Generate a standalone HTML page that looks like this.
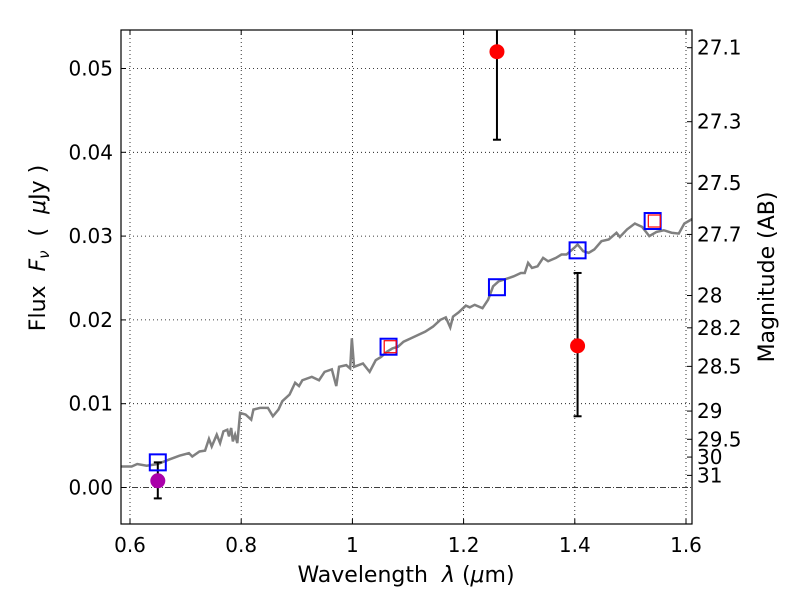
<!DOCTYPE html>
<html><head><meta charset="utf-8"><style>
body{margin:0;background:#fff;}
svg text{font-family:"DejaVu Sans","Liberation Sans",sans-serif;}
</style></head><body>
<svg id="chart" width="800" height="600" xmlns="http://www.w3.org/2000/svg"></svg>
<script>
const specW=[0.583,0.603,0.613,0.630,0.650,0.669,0.689,0.706,0.712,0.725,0.735,0.742,0.747,0.756,0.762,0.768,0.775,0.778,0.782,0.785,0.789,0.793,0.798,0.808,0.818,0.822,0.834,0.848,0.857,0.867,0.874,0.887,0.897,0.904,0.910,0.927,0.940,0.950,0.963,0.971,0.976,0.989,0.996,0.999,1.003,1.019,1.031,1.042,1.052,1.062,1.072,1.082,1.092,1.105,1.118,1.131,1.145,1.158,1.168,1.176,1.181,1.191,1.204,1.211,1.220,1.234,1.244,1.253,1.263,1.277,1.290,1.303,1.310,1.316,1.323,1.333,1.343,1.352,1.366,1.376,1.385,1.399,1.405,1.415,1.425,1.435,1.448,1.461,1.475,1.481,1.494,1.508,1.521,1.534,1.547,1.560,1.574,1.587,1.597,1.618];
const specF=[0.0025,0.0025,0.0028,0.0026,0.0028,0.0033,0.0038,0.0041,0.0037,0.0043,0.0044,0.0058,0.0049,0.0063,0.0053,0.0067,0.0069,0.0061,0.0071,0.0055,0.0063,0.0053,0.0089,0.0087,0.0081,0.0093,0.0095,0.0095,0.0085,0.0093,0.0103,0.0111,0.0125,0.0121,0.0128,0.0132,0.0128,0.0138,0.0141,0.0121,0.0144,0.0146,0.0142,0.0178,0.0144,0.0148,0.0138,0.0152,0.0156,0.0162,0.0166,0.0168,0.0174,0.0178,0.0182,0.0186,0.0192,0.0200,0.0203,0.0191,0.0204,0.0209,0.0217,0.0215,0.0218,0.0214,0.0224,0.0240,0.0246,0.0249,0.0252,0.0256,0.0256,0.0268,0.0262,0.0264,0.0274,0.0270,0.0274,0.0278,0.0278,0.0286,0.0290,0.0282,0.0280,0.0284,0.0294,0.0296,0.0304,0.0299,0.0308,0.0315,0.0311,0.0300,0.0305,0.0307,0.0304,0.0303,0.0315,0.0323];
const bandW=[0.650,1.065,1.260,1.405,1.540];
const bandF=[0.0030,0.0168,0.0239,0.0283,0.0318];
const redSqW=[1.068,1.543];
const redSqF=[0.0168,0.0318];
const obsW=[1.260,1.405];
const obsF=[0.0520,0.0169];
const obsLo=[0.0415,0.0085];
const obsHi=[0.0600,0.0256];
const purW=[0.650];
const purF=[0.0008];
const purLo=[-0.0013];
const purHi=[0.0030];
const xTicks=[0.6,0.8,1.0,1.2,1.4,1.6];
const xTickLabels=["0.6","0.8","1","1.2","1.4","1.6"];
const yTicks=[0,0.01,0.02,0.03,0.04,0.05];
const yTickLabels=["0.00","0.01","0.02","0.03","0.04","0.05"];
const magTicks=[27.1,27.3,27.5,27.7,28,28.2,28.5,29,29.5,30,31];
const magLabels=["27.1","27.3","27.5","27.7","28","28.2","28.5","29","29.5","30","31"];

const L=121,R=692,T=30,B=524;
const X=w=>130+(w-0.6)*556;
const Y=f=>487.5-f*8380;
const NS="http://www.w3.org/2000/svg";
const svg=document.getElementById('chart');
function mk(tag,a,parent){const e=document.createElementNS(NS,tag);for(const k in a)e.setAttribute(k,a[k]);(parent||svg).appendChild(e);return e;}
const clip=mk('clipPath',{id:'pc'});mk('rect',{x:L,y:T,width:R-L,height:B-T},clip);
const plot=mk('g',{'clip-path':'url(#pc)'});

xTicks.forEach(v=>{const l=mk('line',{x1:X(v),x2:X(v),y1:T,y2:B,stroke:'#000','stroke-width':0.8,'stroke-dasharray':'1,3'},plot);
});
yTicks.forEach(v=>{const l=mk('line',{x1:L,x2:R,y1:Y(v),y2:Y(v),stroke:'#000','stroke-width':0.8,'stroke-dasharray':v===0?'6,2,1,2':'1,3'},plot);
});
const sp=mk('polyline',{points:specW.map((w,i)=>X(w)+','+Y(specF[i])).join(' '),fill:'none',stroke:'#808080','stroke-width':2.5},plot);

function err(w,lo,hi){const x=X(w);
 const g=mk('g',{},plot);
 mk('line',{x1:x,x2:x,y1:Y(lo),y2:Y(hi),stroke:'#000','stroke-width':2},g);
 mk('line',{x1:x-4,x2:x+4,y1:Y(lo),y2:Y(lo),stroke:'#000','stroke-width':2},g);
 if(hi<0.0548)mk('line',{x1:x-4,x2:x+4,y1:Y(hi),y2:Y(hi),stroke:'#000','stroke-width':2},g);}
obsW.forEach((w,i)=>err(w,obsLo[i],obsHi[i]));
purW.forEach((w,i)=>err(w,purLo[i],purHi[i]));
bandW.forEach((w,i)=>{const r=mk('rect',{x:X(w)-8,y:Y(bandF[i])-8,width:16,height:16,fill:'none',stroke:'#0000ff','stroke-width':2},plot);
});
redSqW.forEach((w,i)=>{const r=mk('rect',{x:X(w)-6,y:Y(redSqF[i])-6,width:12,height:12,fill:'none',stroke:'#ff0000','stroke-width':1.2},plot);
});
obsW.forEach((w,i)=>{const c=mk('circle',{cx:X(w),cy:Y(obsF[i]),r:7.5,fill:'#ff0000'},plot);
});
purW.forEach((w,i)=>{const c=mk('circle',{cx:X(w),cy:Y(purF[i]),r:7.5,fill:'#aa00aa'},plot);
});
const fr=mk('rect',{x:L,y:T,width:R-L,height:B-T,fill:'none',stroke:'#000','stroke-width':1.2});

xTicks.forEach((v,i)=>{const x=X(v);
 mk('line',{x1:x,x2:x,y1:B,y2:B-5,stroke:'#000'});mk('line',{x1:x,x2:x,y1:T,y2:T+5,stroke:'#000'});
 const t=mk('text',{x:x,y:B+28,'font-size':20,'text-anchor':'middle'});t.textContent=xTickLabels[i];
 });
yTicks.forEach((v,i)=>{const y=Y(v);
 mk('line',{x1:L,x2:L+5,y1:y,y2:y,stroke:'#000'});
 const t=mk('text',{x:L-8,y:y+7,'font-size':20,'text-anchor':'end'});t.textContent=yTickLabels[i];
 });
magTicks.forEach((m,i)=>{const y=Y(Math.pow(10,(23.9-m)/2.5));
 mk('line',{x1:R,x2:R-5,y1:y,y2:y,stroke:'#000'});
 const t=mk('text',{x:R+5,y:y+7,'font-size':20});t.textContent=magLabels[i];
 });
</script>
<svg style="position:absolute;left:0;top:0" width="800" height="600">
<text x="406" y="582" font-size="22" text-anchor="middle" xml:space="preserve" font-family="DejaVu Sans, Liberation Sans, sans-serif">Wavelength  <tspan font-style="italic">λ</tspan> (<tspan font-style="italic">μ</tspan>m)</text>
<text transform="translate(45,248) rotate(-90)" font-size="22" text-anchor="middle" xml:space="preserve" font-family="DejaVu Sans, Liberation Sans, sans-serif">Flux  <tspan font-style="italic">F</tspan><tspan font-style="italic" font-size="15" dy="4">ν</tspan><tspan dy="-4">  (  </tspan><tspan font-style="italic">μ</tspan>Jy )</text>
<text transform="translate(774,277) rotate(-90)" font-size="22" text-anchor="middle" font-family="DejaVu Sans, Liberation Sans, sans-serif">Magnitude (AB)</text>
</svg>
</body></html>
